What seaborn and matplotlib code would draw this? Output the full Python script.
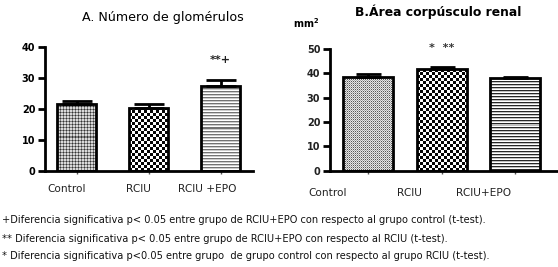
import numpy as np
import pandas as pd
import matplotlib
matplotlib.use("Agg")
import matplotlib.pyplot as plt
import matplotlib.transforms as mtransforms
import seaborn as sns

# ---- data ----
groups_a = ["Control", "RCIU", "RCIU +EPO"]
glom_mean = [21.7, 20.4, 27.5]
glom_err = [0.9, 1.1, 2.0]

groups_b = ["Control", "RCIU", "RCIU+EPO"]
area_mean = [38.6, 41.8, 38.0]
area_err = [1.1, 0.8, 0.7]

yticks_a = [0, 10, 20, 30, 40]
yticks_b = [0, 10, 20, 30, 40, 50]

title_a = "A. Número de glomérulos"
title_b = "B.Área corpúsculo renal"
unit_b = "mm$^{\\mathbf{2}}$"
sig_a = "**+"
sig_b = "*  **"
footnotes = [
    "+Diferencia significativa p< 0.05 entre grupo de RCIU+EPO con respecto al grupo control (t-test).",
    "** Diferencia significativa p< 0.05 entre grupo de RCIU+EPO con respecto al RCIU (t-test).",
    "* Diferencia significativa p<0.05 entre grupo  de grupo control con respecto al grupo RCIU (t-test).",
]

sns.set_theme(style="white")
plt.rcParams["font.family"] = ["DejaVu Sans"]

W, H = 558, 267
fig = plt.figure(figsize=(W / 100, H / 100), dpi=100)


def px_axes(x0, x1, ytop, ybot):
    return fig.add_axes([x0 / W, 1 - ybot / H, (x1 - x0) / W, (ybot - ytop) / H])


def pattern(kind, h, w):
    i = np.arange(h)[:, None]
    j = np.arange(w)[None, :]
    if kind == "grid":
        a = np.full((h, w), 0.85)
        a = np.where((i % 3 == 0) | (j % 3 == 0), 0.5, a)
        a = np.where((i % 3 == 0) & (j % 3 == 0), 0.2, a)
    elif kind == "dots":
        a = np.full((h, w), 0.9)
        a = np.where((i % 2 == 0) & (j % 2 == 0), 0.35, a)
        a = np.where((i % 2 == 1) & (j % 2 == 1), 0.65, a)
    elif kind == "check":
        a = np.where(((i // 3) + (j // 3)) % 2 == 0, 0.02, 1.0) * np.ones((h, w))
    elif kind == "lines":
        a = np.where(i % 3 == 0, 0.45, np.where(i % 3 == 1, 0.8, 1.0)) * np.ones((h, w))
    elif kind == "lines_dark":
        a = np.where(i % 3 == 0, 0.15, np.where(i % 3 == 1, 0.75, 1.0)) * np.ones((h, w))
    return a


def panel(ax, groups, means, errs, kinds, ylim, yticks, xlim, width, capsize, label_offsets, label_dy, tick_font):
    df = pd.DataFrame({"g": groups, "v": means})
    sns.barplot(data=df, x="g", y="v", ax=ax, order=groups, width=width,
                errorbar=None, facecolor="none", edgecolor="black", linewidth=2.0, zorder=3)
    ax.set_xlim(*xlim)
    ax.set_ylim(*ylim)
    ax.errorbar(np.arange(len(groups)), means, yerr=[np.zeros(len(errs)), errs], fmt="none",
                ecolor="black", elinewidth=2.0, capsize=capsize, capthick=2.0, zorder=2.8)
    fig.canvas.draw()
    for p, k in zip(ax.patches, kinds):
        bb = p.get_window_extent()
        w, h = max(int(round(bb.width)), 2), max(int(round(bb.height)), 2)
        x0, y0 = p.get_x(), p.get_y()
        im = ax.imshow(pattern(k, h, w), cmap="gray", vmin=0, vmax=1, interpolation="nearest",
                       extent=(x0, x0 + p.get_width(), y0, y0 + p.get_height()),
                       aspect="auto", zorder=2.5, origin="upper")
        im.set_clip_path(p)
    ax.set_xlim(*xlim)
    ax.set_ylim(*ylim)
    ax.set_xlabel("")
    ax.set_ylabel("")
    ax.set_yticks(yticks)
    ax.set_yticklabels([str(t) for t in yticks], **tick_font)
    ax.set_xticks(range(len(groups)))
    ax.set_xticklabels([])
    base = mtransforms.blended_transform_factory(ax.transData, ax.transAxes)
    for i, (g, off) in enumerate(zip(groups, label_offsets)):
        tr = base + mtransforms.ScaledTranslation(off / 100, -label_dy / 100, fig.dpi_scale_trans)
        ax.text(i, 0, g, transform=tr, ha="center", va="center", fontsize=7.6, color="#222222", clip_on=False)
    ax.tick_params(axis="y", direction="out", length=5, width=2, color="black", pad=2, left=True)
    ax.tick_params(axis="x", direction="out", length=2.5, width=1, color="#555555", bottom=True)
    for s in ["top", "right"]:
        ax.spines[s].set_visible(False)
    for s in ["left", "bottom"]:
        ax.spines[s].set_linewidth(2.0)
        ax.spines[s].set_color("black")
    ax.set_facecolor("none")


# Panel A
axa = px_axes(45, 253, 47, 171)
panel(axa, groups_a, glom_mean, glom_err, ["grid", "check", "lines"], (0, 40), yticks_a,
      (-0.44, 2.45), 0.55, 10.5, [-10, -10, -13], 18.5,
      dict(fontsize=7, fontweight="bold", color="black"))
axa.text(2, 35.8, sig_a, ha="center", va="center", fontsize=8, fontweight="bold", color="#222222", clip_on=False)
fig.text(163 / W, 1 - 17 / H, title_a, ha="center", va="center", fontsize=9.1, color="black")

# Panel B
axb = px_axes(330, 557, 49, 170.7)
panel(axb, groups_b, area_mean, area_err, ["dots", "check", "lines_dark"], (0, 50), yticks_b,
      (-0.52, 2.57), 0.68, 9, [-41, -32, -32], 22.5,
      dict(fontsize=7, fontweight="bold", color="#222222"))
axb.text(1, 50.4, sig_b, ha="center", va="center", fontsize=8, fontweight="bold", color="#333333", clip_on=False)
fig.text(438 / W, 1 - 12 / H, title_b, ha="center", va="center", fontsize=8.9, fontweight="bold", color="black")
fig.text(293 / W, 1 - 23 / H, unit_b, ha="left", va="center", fontsize=7, fontweight="bold", color="black")

# Footnotes
for t, y in zip(footnotes, [220, 238.5, 256]):
    fig.text(2 / W, 1 - y / H, t, ha="left", va="center", fontsize=7.1, color="#111111")

fig.savefig("out.png", dpi=100, facecolor="white")
